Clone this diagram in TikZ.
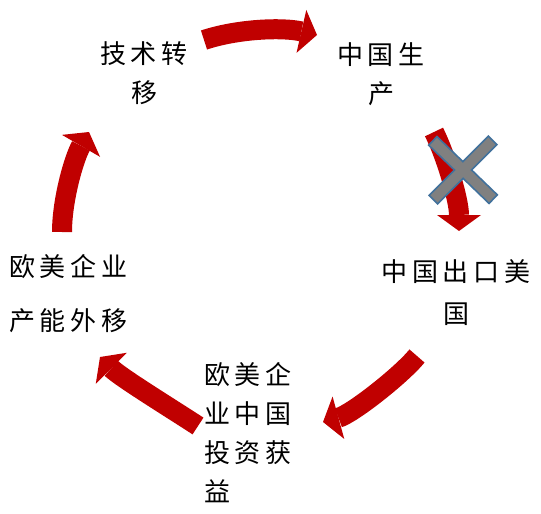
\documentclass[tikz,border=0pt]{standalone}
\usepackage{fontspec}
\usepackage{tikz}
\usetikzlibrary{arrows.meta}
\newfontfamily\cjk[LetterSpace=18]{Noto Sans CJK SC}
\definecolor{arrowred}{HTML}{C00000}
\definecolor{crossgray}{HTML}{808080}
\definecolor{crossblue}{HTML}{41719C}

\tikzset{
  step text/.style={font=\cjk\fontsize{26}{39}\selectfont, inner sep=0pt, anchor=north, align=center},
  cycle arrow/.style={draw=arrowred, line width=20pt, -{Triangle[width=44pt, length=16pt, line width=0pt]}},
  cross bar/.style={rotate around={#1:(xc)}}
}

\begin{document}
\begin{tikzpicture}[x=1pt, y=-1pt]
    \useasboundingbox (0,0) rectangle (541,514);

    \node[step text] (t1) at (144,41) {技术转\\移};
    \node[step text] (t2) at (381,42) {中国生\\产};
    \node[step text] (t3) at (456,259) {中国出口美\\[3pt]国};
    \node[step text, anchor=north west, align=left] (t4) at (204,362) {欧美企\\业中国\\投资获\\益};
    \node[step text, anchor=north west, align=left] (t5) at (9,254) {欧美企业\\[15pt]产能外移};

    \coordinate (u1) at (204,40);
    \coordinate (v1) at (317,35);
    \coordinate (u2) at (434,132);
    \coordinate (v2) at (459,231);
    \coordinate (u3) at (417,356);
    \coordinate (v3) at (323,422);
    \coordinate (u4) at (198,426);
    \coordinate (v4) at (100,357);
    \coordinate (u5) at (62,232);
    \coordinate (v5) at (89,132);
    \coordinate (xc) at (463,170);

    \draw[cycle arrow] (u1) .. controls +(33,-11) and +(-35,-8) .. (v1);
    \draw[cycle arrow] (u2) .. controls +(12,24) and +(0,-31) .. (v2);
    \draw[cycle arrow] (u3) .. controls +(-16,19.5) and +(29,-8) .. (v3);
    \draw[cycle arrow] (u4) .. controls +(-26,-17) and +(20,20) .. (v4);
    \draw[cycle arrow] (u5) .. controls +(0,-32) and +(-15,26) .. (v5);

    \draw[crossblue, line width=3.5pt, cross bar=-44] (xc) ++(-41,-5) rectangle ++(82,10);
    \draw[crossblue, line width=3.5pt, cross bar=45] (xc) ++(-41,-5) rectangle ++(82,10);
    \fill[crossgray, cross bar=-44] (xc) ++(-41,-5) rectangle ++(82,10);
    \fill[crossgray, cross bar=45] (xc) ++(-41,-5) rectangle ++(82,10);
\end{tikzpicture}
\end{document}
